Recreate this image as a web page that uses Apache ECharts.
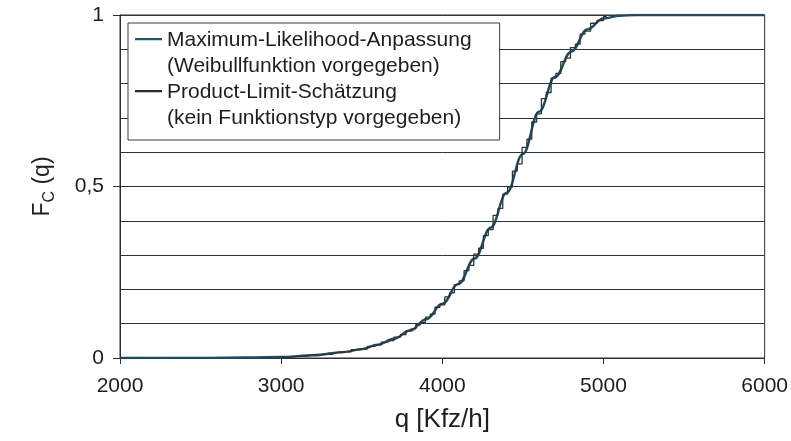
<!DOCTYPE html>
<html>
<head>
<meta charset="utf-8">
<script src="https://cdn.jsdelivr.net/npm/echarts@6/dist/echarts.min.js"></script>
<style>html,body{margin:0;padding:0;background:#fff;}#c{width:791px;height:441px;}</style>
</head>
<body>
<div id="c"></div>
<script>
// Maximum-Likelihood fit (Weibull)
const mlQ = [2000, 2500, 2800, 3000, 3200, 3400, 3500, 3600, 3700, 3800, 3900, 4000, 4100, 4200, 4300, 4400, 4500, 4600, 4700, 4800, 4900, 5000, 5100, 5200, 5400, 6000];
const mlF = [0, 0.0003, 0.0015, 0.003, 0.008, 0.018, 0.026, 0.039, 0.056, 0.080, 0.113, 0.158, 0.216, 0.290, 0.380, 0.482, 0.595, 0.718, 0.820, 0.893, 0.958, 0.990, 0.998, 1.0, 1.0, 1.0];
// Product-Limit estimate (step line)
const plQ = [3000, 3100, 3200, 3280, 3350, 3410, 3460, 3510, 3560, 3600, 3640, 3680, 3720, 3760, 3790, 3820, 3850, 3880, 3910, 3940, 3970, 4000, 4030, 4060, 4090, 4120, 4150, 4180, 4210, 4240, 4270, 4300, 4330, 4360, 4390, 4420, 4450, 4480, 4510, 4540, 4570, 4600, 4630, 4660, 4690, 4720, 4750, 4780, 4810, 4840, 4870, 4900, 4940, 4980, 5020];
const plF = [0.002, 0.005, 0.009, 0.011, 0.016, 0.018, 0.024, 0.026, 0.034, 0.038, 0.046, 0.051, 0.061, 0.068, 0.079, 0.085, 0.097, 0.104, 0.119, 0.128, 0.148, 0.155, 0.178, 0.190, 0.214, 0.225, 0.255, 0.270, 0.303, 0.320, 0.357, 0.374, 0.416, 0.436, 0.478, 0.498, 0.545, 0.566, 0.614, 0.638, 0.688, 0.712, 0.756, 0.774, 0.816, 0.830, 0.864, 0.874, 0.905, 0.915, 0.944, 0.953, 0.976, 0.984, 0.995];
const seriesNames = ['Maximum-Likelihood-Anpassung', 'Product-Limit-Schätzung'];
const seriesNotes = ['(Weibullfunktion vorgegeben)', '(kein Funktionstyp vorgegeben)'];
const xTicks = [2000, 3000, 4000, 5000, 6000];
const yTickLabels = {0: '0', 0.5: '0,5', 1: '1'};

const FONT = 'Liberation Sans, Arial, sans-serif';
const chart = echarts.init(document.getElementById('c'), null, {renderer: 'canvas'});
chart.setOption({
  backgroundColor: '#ffffff',
  animation: false,
  grid: {left: 120, right: 25, top: 15, bottom: 83, show: true, borderColor: '#2b2f33', borderWidth: 1, backgroundColor: 'transparent'},
  legend: {
    orient: 'vertical',
    left: 128, top: 23,
    data: seriesNames,
    itemWidth: 27, itemHeight: 52, itemGap: 0,
    icon: 'path://M0,0L0.01,0L0.01,0.01Z M0,11L27,11L27,13.2L0,13.2Z M0,51.99L0.01,51.99L0.01,52Z',
    itemStyle: {borderWidth: 0},
    padding: [4, 28, 9, 7],
    backgroundColor: '#ffffff',
    borderColor: '#3a3d40', borderWidth: 1, borderRadius: 0,
    formatter: function (name) { return name + '\n' + seriesNotes[seriesNames.indexOf(name)]; },
    textStyle: {fontFamily: FONT, fontSize: 21, lineHeight: 26, color: '#1e1e1e'}
  },
  xAxis: {
    type: 'value', min: xTicks[0], max: xTicks[xTicks.length - 1], interval: 1000,
    name: 'q [Kfz/h]', nameLocation: 'middle', nameGap: 49,
    nameTextStyle: {fontFamily: FONT, fontSize: 26, color: '#1e1e1e'},
    axisLine: {show: true, lineStyle: {color: '#2b2f33', width: 1}},
    axisTick: {show: true, length: 6, lineStyle: {color: '#2b2f33'}},
    axisLabel: {fontFamily: FONT, fontSize: 21, color: '#1e1e1e', margin: 18,
      formatter: function (v) { return String(v); }},
    splitLine: {show: false}
  },
  yAxis: {
    type: 'value', min: 0, max: 1, interval: 0.5,
    name: '{a|F}{b|C}{a| (q)}', nameLocation: 'middle', nameGap: 62,
    nameTextStyle: {
      rich: {
        a: {fontFamily: FONT, fontSize: 23, color: '#1e1e1e', lineHeight: 30, verticalAlign: 'middle'},
        b: {fontFamily: FONT, fontSize: 16, color: '#1e1e1e', lineHeight: 15, verticalAlign: 'bottom'}
      }
    },
    axisLine: {show: true, lineStyle: {color: '#2b2f33', width: 1}},
    axisTick: {show: true, length: 7, lineStyle: {color: '#2b2f33'}},
    axisLabel: {fontFamily: FONT, fontSize: 21, color: '#1e1e1e', margin: 16,
      formatter: function (v) { return yTickLabels[v] !== undefined ? yTickLabels[v] : ''; }},
    splitLine: {show: true, lineStyle: {color: '#263541', width: 1}},
    minorTick: {show: false, splitNumber: 5},
    minorSplitLine: {show: true, lineStyle: {color: '#263541', width: 1}}
  },
  series: [
    {
      name: seriesNames[0], type: 'line', symbol: 'none', smooth: 0.4, smoothMonotone: 'x',
      data: mlQ.map((q, i) => [q, mlF[i]]),
      lineStyle: {color: '#1f4a60', width: 2.4}, itemStyle: {color: '#1d5673'}, z: 3
    },
    {
      name: seriesNames[1], type: 'line', symbol: 'none', step: 'middle',
      data: plQ.map((q, i) => [q, plF[i]]),
      lineStyle: {color: '#333333', width: 1.3}, itemStyle: {color: '#2a2a2a'}, z: 4
    }
  ]
});
</script>
</body>
</html>
